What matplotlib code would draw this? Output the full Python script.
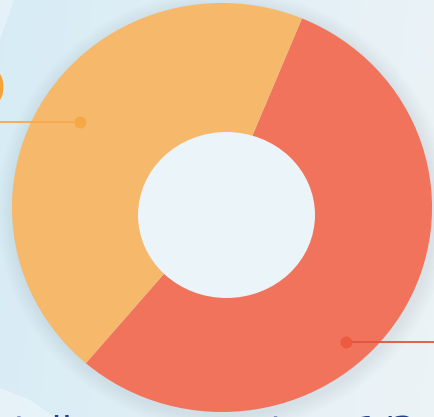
import numpy as np
import matplotlib.pyplot as plt
from matplotlib.patches import Ellipse, Polygon

# share of the two slices (red first, going clockwise from top-right)
labels = ['red', 'orange']
shares = [55, 45]
colors = ['#F2735B', '#F6B86A']
left_label = '0'
bottom_text = 'retail: now great on 1/3'

W, H = 435, 417
sx = 1.027                 # ring is a little wider than tall
cx, cy, R = 222, 207.5, 204.5
hx, hy, hw, hh = 226.5, 215, 177, 166

fig = plt.figure(figsize=(W / 100, H / 100), dpi=100)
ax = fig.add_axes([0, 0, 1, 1])

def X(px):
    return px / sx

# light blue background, whiter towards the right
xx, yy = np.meshgrid(np.linspace(0, 1, 200), np.linspace(0, 1, 200))
t = np.clip(0.8 * xx + 0.1 * yy, 0, 1)
c0 = np.array([0.843, 0.925, 0.962])
c1 = np.array([0.937, 0.957, 0.968])
bg = c0 * (1 - t[..., None]) + c1 * t[..., None]
ax.imshow(bg, extent=(0, X(W), H, 0), zorder=0, aspect='auto')
ax.add_patch(Polygon([(0, 0), (X(14), 0), (0, 40)], color='white',
                     alpha=0.35, lw=0, zorder=0.5))
ax.add_patch(Polygon([(0, 388), (X(30), 400), (X(55), 417), (0, 417)],
                     color='white', alpha=0.35, lw=0, zorder=0.5))

# soft shadow round the ring
for k in range(8):
    ax.add_patch(Ellipse((X(cx + 2), cy + 3), 2 * (R + 2 + k * 2),
                         2 * (R + 2 + k * 2), color='#98b1bf',
                         alpha=0.025, lw=0, zorder=1))

ax.pie(shares, colors=colors, startangle=-67.6, counterclock=True,
       center=(X(cx), cy), radius=R, frame=True,
       wedgeprops=dict(linewidth=0, zorder=2))
ax.add_patch(Ellipse((X(hx), hy), X(hw), hh, color='#EAF4F9', lw=0, zorder=3))

# leader lines with dots
ax.plot([0, X(80)], [122, 122], color='#F5A94E', lw=1.3, zorder=4)
ax.plot([X(80)], [122], 'o', ms=8.6, color='#F6A845', mew=0, zorder=5)
ax.plot([X(346), X(W)], [342, 342], color='#E4533D', lw=1.3, zorder=4)
ax.plot([X(346)], [342], 'o', ms=8.6, color='#EC5A42', mew=0, zorder=5)

ax.text(X(5), 91, left_label, ha='right', va='center', fontsize=36,
        color='#F5A236', fontweight='semibold', zorder=6)
ax.text(X(-24), 443, bottom_text, ha='left', va='baseline', fontsize=27,
        color='#233E8B', zorder=6)

ax.set_aspect('auto')
ax.set_xlim(0, X(W))
ax.set_ylim(H, 0)
ax.axis('off')

fig.savefig('out.png', dpi=100)
